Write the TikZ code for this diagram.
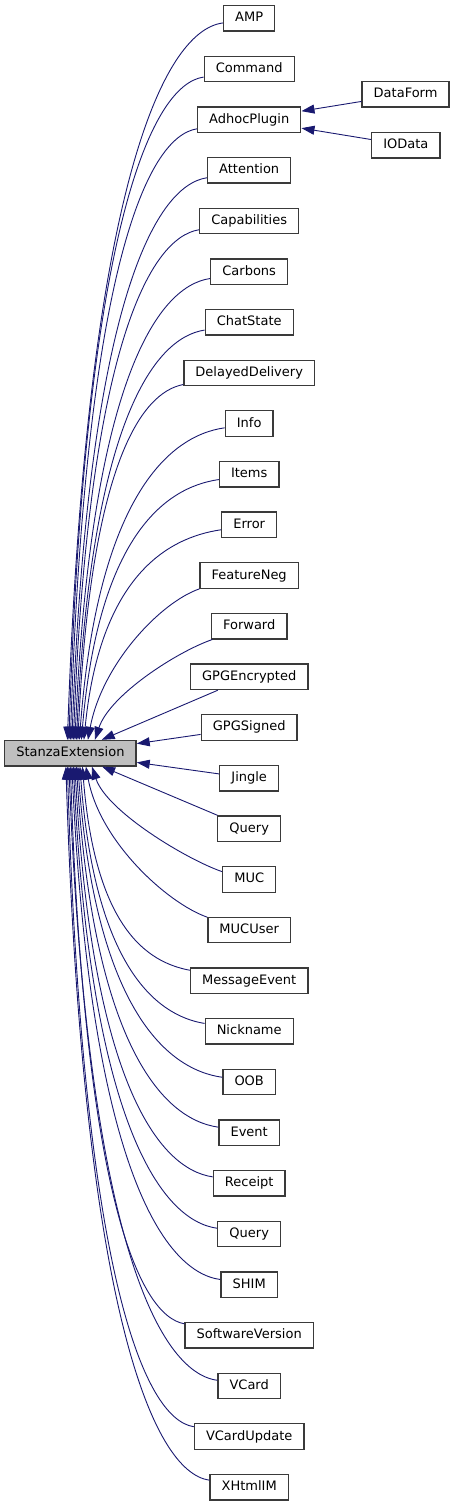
\documentclass[tikz,border=0pt]{standalone}
\usepackage{fontspec}
\setmainfont{DejaVu Sans}
\usetikzlibrary{arrows.meta}
\definecolor{edgeblue}{HTML}{191970}
\definecolor{boxline}{HTML}{3A3A3A}

\begin{document}
\begin{tikzpicture}[x=1pt, y=-1pt,
    cls/.style={draw=boxline, line width=1.3pt, fill=white, inner xsep=11.6pt, inner ysep=0pt,
                minimum height=25.5pt, text height=9.5pt, text depth=2.5pt,
                font=\fontsize{13}{15}\selectfont},
    base/.style={cls, fill=black!25},
    inh/.style={draw=edgeblue, line width=0.9pt, -{Triangle[length=13pt, width=9pt]}}]
    \useasboundingbox (0,0) rectangle (455,1507);

    % 1. 基类
    \node[base] (se) at (70.4,753.2) {StanzaExtension};

    % 2. 派生类 (一列, 间距 50.65)
    \node[cls] (amp)       at (249.2,18.3)   {AMP};
    \node[cls] (command)   at (249.2,69.0)   {Command};
    \node[cls] (adhoc)     at (249.2,119.6)  {AdhocPlugin};
    \node[cls] (attention) at (249.2,170.3)  {Attention};
    \node[cls] (capab)     at (249.2,220.9)  {Capabilities};
    \node[cls] (carbons)   at (249.2,271.6)  {Carbons};
    \node[cls] (chatstate) at (249.2,322.2)  {ChatState};
    \node[cls] (delayed)   at (249.2,372.9)  {DelayedDelivery};
    \node[cls] (info)      at (249.2,423.5)  {Info};
    \node[cls] (items)     at (249.2,474.2)  {Items};
    \node[cls] (error)     at (249.2,524.8)  {Error};
    \node[cls] (featneg)   at (249.2,575.5)  {FeatureNeg};
    \node[cls] (forward)   at (249.2,626.1)  {Forward};
    \node[cls] (gpgenc)    at (249.2,676.8)  {GPGEncrypted};
    \node[cls] (gpgsig)    at (249.2,727.4)  {GPGSigned};
    \node[cls] (jingle)    at (249.2,778.1)  {Jingle};
    \node[cls] (query)     at (249.2,828.7)  {Query};
    \node[cls] (muc)       at (249.2,879.4)  {MUC};
    \node[cls] (mucuser)   at (249.2,930.0)  {MUCUser};
    \node[cls] (msgevent)  at (249.2,980.7)  {MessageEvent};
    \node[cls] (nickname)  at (249.2,1031.3) {Nickname};
    \node[cls] (oob)       at (249.2,1082.0) {OOB};
    \node[cls] (event)     at (249.2,1132.6) {Event};
    \node[cls] (receipt)   at (249.2,1183.3) {Receipt};
    \node[cls] (queryb)    at (249.2,1233.9) {Query};
    \node[cls] (shim)      at (249.2,1284.6) {SHIM};
    \node[cls] (swversion) at (249.2,1335.2) {SoftwareVersion};
    \node[cls] (vcard)     at (249.2,1385.9) {VCard};
    \node[cls] (vcardupd)  at (249.2,1436.5) {VCardUpdate};
    \node[cls] (xhtmlim)   at (249.2,1487.2) {XHtmlIM};

    % 3. AdhocPlugin 的子类
    \node[cls] (dataform)  at (405.6,94.3)  {DataForm};
    \node[cls] (iodata)    at (405.8,145.2) {IOData};

    % 4. 继承箭头 (上半部分)
    \draw[inh] (amp.190) .. controls +(-62,8) and +(19,-542) .. ([xshift=-3pt]se.north);
    \draw[inh] (command.190) .. controls +(-54,8) and +(16,-504) .. ([xshift=-1.5pt]se.north);
    \draw[inh] (adhoc.190) .. controls +(-51,8) and +(15,-466) .. (se.north);
    \draw[inh] (attention.190) .. controls +(-54,8) and +(16,-428) .. ([xshift=1.5pt]se.north);
    \draw[inh] (capab.190) .. controls +(-50,8) and +(15,-390) .. ([xshift=3pt]se.north);
    \draw[inh] (carbons.190) .. controls +(-55,8) and +(16,-352) .. ([xshift=4.5pt]se.north);
    \draw[inh] (chatstate.190) .. controls +(-52,8) and +(15,-314) .. ([xshift=6pt]se.north);
    \draw[inh] (delayed.190) .. controls +(-42,8) and +(13,-276) .. ([xshift=7.5pt]se.north);
    \draw[inh] (info.190) .. controls +(-58,8) and +(18,-238) .. ([xshift=9pt]se.north);
    \draw[inh] (items.190) .. controls +(-56,8) and +(17,-200) .. ([xshift=11pt]se.north);
    \draw[inh] (error.190) .. controls +(-55,8) and +(16,-162) .. ([xshift=13.5pt]se.north);
    \draw[inh] (featneg.195) .. controls +(-40,14) and +(14,-75) .. ([xshift=17.5pt]se.north);
    \draw[inh] (forward.200) .. controls +(-35,12) and +(15,-45) .. ([xshift=24.5pt]se.north);
    \draw[inh] (gpgenc) -- (se);
    \draw[inh] (gpgsig) -- (se);

    % 5. 继承箭头 (下半部分)
    \draw[inh] (jingle) -- (se);
    \draw[inh] (query) -- (se);
    \draw[inh] (muc.164) .. controls +(-35,-12) and +(15,45) .. ([xshift=21.5pt]se.south);
    \draw[inh] (mucuser.163) .. controls +(-40,-14) and +(14,75) .. ([xshift=15.5pt]se.south);
    \draw[inh] (msgevent.170) .. controls +(-43,-8) and +(13,161) .. ([xshift=12pt]se.south);
    \draw[inh] (nickname.170) .. controls +(-49,-8) and +(15,199) .. ([xshift=9.5pt]se.south);
    \draw[inh] (oob.170) .. controls +(-58,-8) and +(17,237) .. ([xshift=7.5pt]se.south);
    \draw[inh] (event.170) .. controls +(-57,-8) and +(17,275) .. ([xshift=6pt]se.south);
    \draw[inh] (receipt.170) .. controls +(-55,-8) and +(17,313) .. ([xshift=4.5pt]se.south);
    \draw[inh] (queryb.170) .. controls +(-58,-8) and +(17,351) .. ([xshift=3pt]se.south);
    \draw[inh] (shim.170) .. controls +(-60,-8) and +(18,389) .. ([xshift=1.5pt]se.south);
    \draw[inh] (swversion.170) .. controls +(-46,-8) and +(14,427) .. (se.south);
    \draw[inh] (vcard.170) .. controls +(-60,-8) and +(18,465) .. ([xshift=-1.5pt]se.south);
    \draw[inh] (vcardupd.170) .. controls +(-51,-8) and +(15,503) .. ([xshift=-3pt]se.south);
    \draw[inh] (xhtmlim.170) .. controls +(-57,-8) and +(17,541) .. ([xshift=-4.5pt]se.south);

    % 6. DataForm, IOData -> AdhocPlugin
    \draw[inh] (dataform) -- (adhoc);
    \draw[inh] (iodata) -- (adhoc);
\end{tikzpicture}
\end{document}
